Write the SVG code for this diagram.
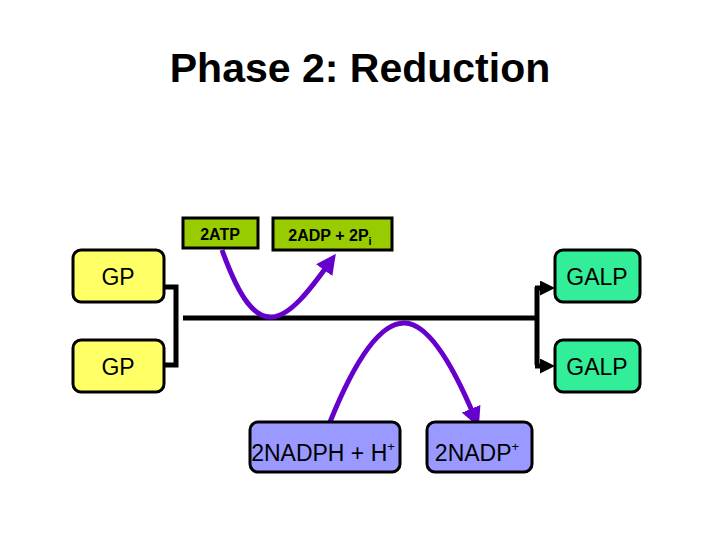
<svg xmlns="http://www.w3.org/2000/svg" width="720" height="540" viewBox="0 0 720 540">
<defs>
<marker id="ab" markerWidth="3" markerHeight="3" refX="1" refY="1.5" orient="auto" markerUnits="strokeWidth"><path d="M0,0 L3,1.5 L0,3 z" fill="#000"/></marker>
<marker id="ap" markerWidth="4" markerHeight="4" refX="2" refY="2" orient="auto" markerUnits="strokeWidth"><path d="M0,0 L4,2 L0,4 z" fill="#6600cc"/></marker>
</defs>
<style>
.b{stroke:#000;stroke-width:3}
.t{font-family:"Liberation Sans",Arial,sans-serif;fill:#000}
.c{fill:none;stroke:#000;stroke-width:5}
.p{fill:none;stroke:#6600cc;stroke-width:5}
</style>
<rect width="720" height="540" fill="#fff"/>
<text x="360" y="82" text-anchor="middle" class="t" font-size="41" font-weight="bold">Phase 2: Reduction</text>
<g id="connectors">
<path class="c" d="M164,287 H176 V365 H164"/>
<path class="c" d="M183,318 H535"/>
<path class="c" d="M537,287 V365"/>
<path class="c" d="M535,288 H545" marker-end="url(#ab)"/>
<path class="c" d="M535,366 H545" marker-end="url(#ab)"/>
<path class="p" d="M222,250 C240,300 255,318 272,317 C290,316 310,290 330,262" marker-end="url(#ap)"/>
<path class="p" d="M330,422 C355,360 380,322 405,323 C430,324 455,370 475,418" marker-end="url(#ap)"/>
</g>
<g id="atp"><rect class="b" x="183" y="218" width="75" height="30" fill="#99cc00"/><text x="220" y="240" text-anchor="middle" class="t" font-size="16" font-weight="bold">2ATP</text></g>
<g id="adp"><rect class="b" x="273" y="218" width="119" height="32" fill="#99cc00"/><text x="330" y="241" text-anchor="middle" class="t" font-size="16" font-weight="bold">2ADP + 2P<tspan font-size="11" dy="4">i</tspan></text></g>
<g id="gp1"><rect class="b" x="73" y="250" width="91" height="52" rx="8" fill="#ffff66"/><text x="118" y="285" text-anchor="middle" class="t" font-size="23">GP</text></g>
<g id="gp2"><rect class="b" x="73" y="340" width="91" height="52" rx="8" fill="#ffff66"/><text x="118" y="375" text-anchor="middle" class="t" font-size="23">GP</text></g>
<g id="galp1"><rect class="b" x="555" y="250" width="85" height="52" rx="8" fill="#33ee99"/><text x="597" y="285" text-anchor="middle" class="t" font-size="23">GALP</text></g>
<g id="galp2"><rect class="b" x="555" y="340" width="85" height="52" rx="8" fill="#33ee99"/><text x="597" y="375" text-anchor="middle" class="t" font-size="23">GALP</text></g>
<g id="nadph"><rect class="b" x="250" y="422" width="150" height="50" rx="8" fill="#9999ff"/><text x="323" y="461" text-anchor="middle" class="t" font-size="23">2NADPH + H<tspan font-size="13" dy="-10">+</tspan></text></g>
<g id="nadp"><rect class="b" x="427" y="422" width="105" height="50" rx="8" fill="#9999ff"/><text x="477" y="461" text-anchor="middle" class="t" font-size="23">2NADP<tspan font-size="13" dy="-10">+</tspan></text></g>
</svg>
